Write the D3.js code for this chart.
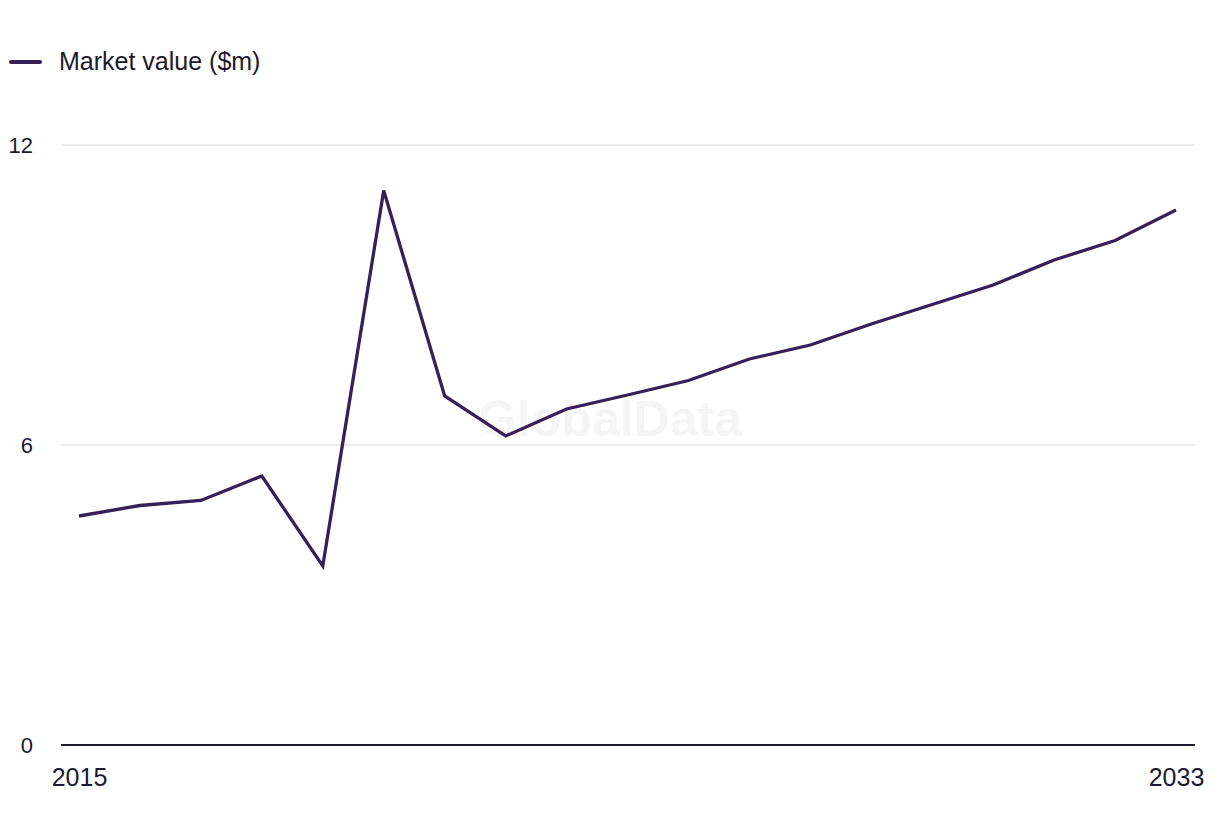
<!DOCTYPE html>
<html>
<head>
<meta charset="utf-8">
<script src="https://cdn.jsdelivr.net/npm/d3@7"></script>
<style>
  html, body { margin: 0; padding: 0; background: #ffffff; }
  svg { display: block; font-family: "Liberation Sans", Arial, sans-serif; }
</style>
</head>
<body>
<svg id="chart" width="1220" height="836"></svg>
<script>
const years = [2015,2016,2017,2018,2019,2020,2021,2022,2023,2024,2025,2026,2027,2028,2029,2030,2031,2032,2033];
const marketValue = [4.58,4.79,4.89,5.38,3.58,11.09,6.98,6.18,6.72,7.0,7.29,7.72,8.0,8.42,8.81,9.2,9.7,10.09,10.7];
const yTicks = [0,6,12];
const xTickLabels = [2015, 2033];
const seriesName = "Market value ($m)";

const svg = d3.select("#chart");
const lineColor = "#35215a";
const textColor = "#1b1a2e";

const x = d3.scaleLinear().domain([2015, 2033]).range([79, 1176]);
const y = d3.scaleLinear().domain([0, 12]).range([745, 145]);

// watermark
svg.append("text")
  .attr("x", 610).attr("y", 436)
  .attr("text-anchor", "middle")
  .attr("font-size", 50).attr("font-weight", "bold")
  .attr("fill", "#f5f5f5")
  .text("GlobalData");

// y axis labels
const yAxis = d3.axisLeft(y).tickValues(yTicks).tickSize(0).tickPadding(0).tickFormat(d3.format("d"));
const gy = svg.append("g").attr("transform", "translate(33,0)").call(yAxis);
gy.select(".domain").remove();
gy.selectAll("text").attr("font-size", 22).attr("fill", textColor).attr("font-family", "Liberation Sans, Arial, sans-serif");

// gridlines
svg.append("g").selectAll("line.grid")
  .data(yTicks.filter(d => d !== 0))
  .join("line")
  .attr("x1", 61).attr("x2", 1195)
  .attr("y1", d => y(d)).attr("y2", d => y(d))
  .attr("stroke", "#d9d9d9").attr("stroke-width", 1.2);

// baseline
svg.append("line")
  .attr("x1", 61).attr("x2", 1195)
  .attr("y1", y(0)).attr("y2", y(0))
  .attr("stroke", textColor).attr("stroke-width", 2);

// x axis labels
const xAxis = d3.axisBottom(x).tickValues(xTickLabels).tickSize(0).tickPadding(0).tickFormat(d3.format("d"));
const gx = svg.append("g").attr("transform", "translate(0,768)").call(xAxis);
gx.select(".domain").remove();
gx.selectAll("text").attr("font-size", 25).attr("fill", textColor).attr("font-family", "Liberation Sans, Arial, sans-serif");

// line
const line = d3.line().x((d, i) => x(years[i])).y(d => y(d));
svg.append("path")
  .datum(marketValue)
  .attr("d", line)
  .attr("fill", "none")
  .attr("stroke", lineColor)
  .attr("stroke-width", 3.3)
  .attr("stroke-linejoin", "miter");

// legend
svg.append("line")
  .attr("x1", 11).attr("x2", 40).attr("y1", 62).attr("y2", 62)
  .attr("stroke", lineColor).attr("stroke-width", 4).attr("stroke-linecap", "round");
svg.append("text")
  .attr("x", 59).attr("y", 70)
  .attr("font-size", 25).attr("fill", textColor)
  .text(seriesName);
</script>
</body>
</html>
